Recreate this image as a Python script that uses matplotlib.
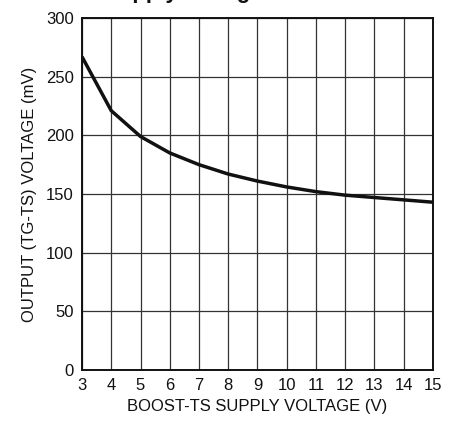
import matplotlib
matplotlib.use("Agg")
import matplotlib.pyplot as plt
from matplotlib import font_manager

fams = [f.name for f in font_manager.fontManager.ttflist]
base = 'Liberation Sans Narrow' if 'Liberation Sans Narrow' in fams else 'Liberation Sans'
plt.rcParams['font.family'] = [base, 'DejaVu Sans']

boost_v = [3, 4, 5, 6, 7, 8, 9, 10, 11, 12, 13, 14, 15]
output_mv = [267, 221, 199, 185, 175, 167, 161, 156, 152, 149, 147, 145, 143]
x_ticks = list(range(3, 16))
y_ticks = [0, 50, 100, 150, 200, 250, 300]
title_text = "Supply Voltage"
xlabel = "BOOST-TS SUPPLY VOLTAGE (V)"
ylabel = "OUTPUT (TG-TS) VOLTAGE (mV)"

fig = plt.figure(figsize=(4.58, 4.28), dpi=100)
ax = fig.add_axes([82/458, 58/428, 351/458, 352/428])
ax.plot(boost_v, output_mv, color='#111111', lw=2.5, solid_capstyle='butt', zorder=3)
ax.set_xlim(3, 15)
ax.set_ylim(0, 300)
ax.set_xticks(x_ticks)
ax.set_yticks(y_ticks)
ax.grid(True, color='#333333', lw=0.9)
ax.tick_params(length=0, labelsize=12, pad=6, colors='#111111')
for s in ax.spines.values():
    s.set_linewidth(1.4)
    s.set_color('#111111')
ax.set_xlabel(xlabel, fontsize=12, color='#111111', labelpad=4)
ax.set_ylabel(ylabel, fontsize=12, color='#111111', labelpad=6)
fig.text(104.5/458, 1.0 + 1.5/428, title_text, ha='left', va='baseline',
         fontsize=16, fontweight='bold', color='#111111')
fig.savefig('out.png', dpi=100)
